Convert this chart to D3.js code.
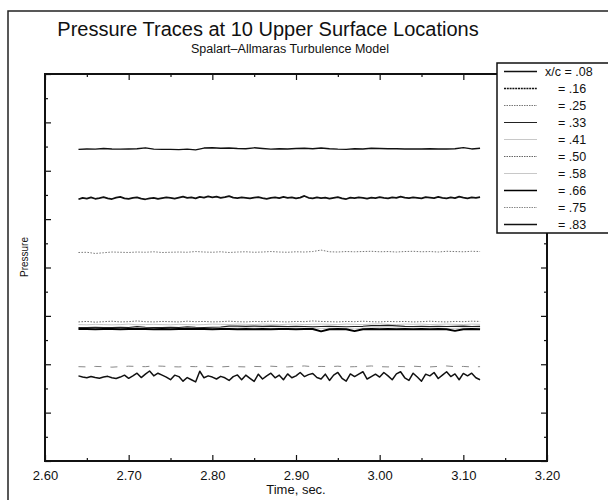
<!DOCTYPE html>
<html>
<head>
<meta charset="utf-8">
<script src="https://cdn.jsdelivr.net/npm/d3@7"></script>
<style>
  body { margin: 0; background: white; }
  svg { font-family: "Liberation Sans", Arial, sans-serif; }
</style>
</head>
<body>
<svg width="608" height="500"></svg>
<script>
// time samples (sec)
let tCoarse = [
  2.64, 2.65, 2.66, 2.67, 2.68, 2.69, 2.70, 2.71, 2.72, 2.73,
  2.74, 2.75, 2.76, 2.77, 2.78, 2.79, 2.80, 2.81, 2.82, 2.83,
  2.84, 2.85, 2.86, 2.87, 2.88, 2.89, 2.90, 2.91, 2.92, 2.93,
  2.94, 2.95, 2.96, 2.97, 2.98, 2.99, 3.00, 3.01, 3.02, 3.03,
  3.04, 3.05, 3.06, 3.07, 3.08, 3.09, 3.10, 3.11, 3.12]
let tFine = [
  2.640, 2.645, 2.650, 2.655, 2.660, 2.665, 2.670, 2.675, 2.680, 2.685,
  2.690, 2.695, 2.700, 2.705, 2.710, 2.715, 2.720, 2.725, 2.730, 2.735,
  2.740, 2.745, 2.750, 2.755, 2.760, 2.765, 2.770, 2.775, 2.780, 2.785,
  2.790, 2.795, 2.800, 2.805, 2.810, 2.815, 2.820, 2.825, 2.830, 2.835,
  2.840, 2.845, 2.850, 2.855, 2.860, 2.865, 2.870, 2.875, 2.880, 2.885,
  2.890, 2.895, 2.900, 2.905, 2.910, 2.915, 2.920, 2.925, 2.930, 2.935,
  2.940, 2.945, 2.950, 2.955, 2.960, 2.965, 2.970, 2.975, 2.980, 2.985,
  2.990, 2.995, 3.000, 3.005, 3.010, 3.015, 3.020, 3.025, 3.030, 3.035,
  3.040, 3.045, 3.050, 3.055, 3.060, 3.065, 3.070, 3.075, 3.080, 3.085,
  3.090, 3.095, 3.100, 3.105, 3.110, 3.115, 3.120]

// pressure traces (arbitrary units, unlabelled axis)
let p08 = [
  12.88, 12.90, 12.89, 12.92, 12.90, 12.89, 12.90, 12.91, 12.95, 12.89,
  12.88, 12.88, 12.87, 12.89, 12.86, 12.94, 12.95, 12.93, 12.94, 12.92,
  12.91, 12.95, 12.92, 12.89, 12.91, 12.90, 12.92, 12.93, 12.91, 12.94,
  12.91, 12.89, 12.88, 12.91, 12.90, 12.93, 12.92, 12.91, 12.91, 12.90,
  12.90, 12.90, 12.91, 12.90, 12.90, 12.91, 12.96, 12.90, 12.93]
let p16 = [
  10.82, 10.88, 10.85, 10.90, 10.84, 10.87, 10.91, 10.86, 10.83, 10.89,
  10.92, 10.86, 10.84, 10.88, 10.90, 10.85, 10.82, 10.86, 10.88, 10.84,
  10.87, 10.90, 10.88, 10.85, 10.89, 10.93, 10.88, 10.90, 10.86, 10.92,
  10.89, 10.94, 10.90, 10.93, 10.88, 10.91, 10.95, 10.89, 10.87, 10.90,
  10.88, 10.86, 10.89, 10.91, 10.87, 10.84, 10.88, 10.90, 10.87, 10.92,
  10.88, 10.90, 10.86, 10.89, 10.96, 10.88, 10.86, 10.90, 10.87, 10.89,
  10.85, 10.88, 10.91, 10.86, 10.83, 10.89, 10.87, 10.90, 10.88, 10.85,
  10.89, 10.87, 10.91, 10.88, 10.86, 10.90, 10.88, 10.93, 10.89, 10.87,
  10.90, 10.88, 10.86, 10.91, 10.89, 10.87, 10.92, 10.88, 10.86, 10.90,
  10.87, 10.93, 10.89, 10.86, 10.90, 10.88, 10.91]
let p25 = [
  8.62, 8.63, 8.58, 8.61, 8.64, 8.63, 8.62, 8.64, 8.63, 8.65,
  8.62, 8.63, 8.64, 8.63, 8.66, 8.64, 8.63, 8.65, 8.62, 8.64,
  8.65, 8.63, 8.64, 8.66, 8.64, 8.63, 8.65, 8.64, 8.66, 8.72,
  8.65, 8.64, 8.66, 8.65, 8.66, 8.67, 8.65, 8.66, 8.64, 8.66,
  8.67, 8.65, 8.66, 8.64, 8.67, 8.66, 8.65, 8.67, 8.66]
let p33 = [
  5.52, 5.52, 5.53, 5.52, 5.52, 5.53, 5.52, 5.56, 5.53, 5.52,
  5.52, 5.53, 5.52, 5.55, 5.53, 5.52, 5.53, 5.54, 5.58, 5.58,
  5.57, 5.58, 5.57, 5.58, 5.57, 5.56, 5.57, 5.56, 5.55, 5.56,
  5.57, 5.56, 5.55, 5.56, 5.57, 5.60, 5.60, 5.61, 5.59, 5.57,
  5.56, 5.57, 5.56, 5.57, 5.56, 5.57, 5.58, 5.56, 5.57]
let p41 = [
  5.64, 5.63, 5.65, 5.64, 5.63, 5.64, 5.66, 5.63, 5.64, 5.65,
  5.64, 5.63, 5.65, 5.64, 5.63, 5.64, 5.66, 5.65, 5.64, 5.66,
  5.65, 5.64, 5.66, 5.65, 5.64, 5.65, 5.66, 5.64, 5.65, 5.66,
  5.65, 5.64, 5.66, 5.65, 5.64, 5.66, 5.67, 5.65, 5.64, 5.66,
  5.65, 5.66, 5.64, 5.65, 5.66, 5.65, 5.64, 5.66, 5.65]
let p50 = [
  5.75, 5.77, 5.74, 5.76, 5.78, 5.75, 5.76, 5.79, 5.76, 5.75,
  5.77, 5.76, 5.75, 5.78, 5.76, 5.77, 5.75, 5.76, 5.78, 5.76,
  5.75, 5.77, 5.76, 5.78, 5.76, 5.75, 5.77, 5.76, 5.79, 5.77,
  5.76, 5.75, 5.77, 5.76, 5.78, 5.76, 5.75, 5.77, 5.76, 5.77,
  5.75, 5.76, 5.78, 5.76, 5.75, 5.77, 5.76, 5.78, 5.77]
let p58 = [
  5.49, 5.48, 5.50, 5.49, 5.48, 5.49, 5.51, 5.48, 5.49, 5.50,
  5.49, 5.48, 5.50, 5.49, 5.51, 5.49, 5.48, 5.50, 5.49, 5.50,
  5.51, 5.49, 5.50, 5.48, 5.49, 5.51, 5.50, 5.49, 5.50, 5.47,
  5.49, 5.50, 5.48, 5.46, 5.49, 5.50, 5.51, 5.49, 5.50, 5.49,
  5.50, 5.49, 5.51, 5.50, 5.48, 5.47, 5.50, 5.49, 5.50]
let p66 = [
  5.46, 5.46, 5.45, 5.46, 5.46, 5.45, 5.46, 5.47, 5.46, 5.45,
  5.46, 5.45, 5.46, 5.47, 5.46, 5.46, 5.45, 5.46, 5.46, 5.45,
  5.46, 5.45, 5.46, 5.45, 5.46, 5.46, 5.45, 5.46, 5.46, 5.36,
  5.45, 5.46, 5.45, 5.37, 5.45, 5.46, 5.45, 5.46, 5.45, 5.46,
  5.45, 5.46, 5.45, 5.46, 5.45, 5.38, 5.45, 5.46, 5.45]
let p75 = [
  3.90, 3.89, 3.91, 3.90, 3.88, 3.90, 3.92, 3.91, 3.90, 3.93,
  3.92, 3.90, 3.89, 3.91, 3.90, 3.92, 3.90, 3.89, 3.91, 3.90,
  3.89, 3.91, 3.90, 3.92, 3.90, 3.89, 3.91, 3.93, 3.90, 3.91,
  3.90, 3.92, 3.89, 3.90, 3.91, 3.93, 3.90, 3.89, 3.91, 3.90,
  3.92, 3.90, 3.89, 3.91, 3.93, 3.90, 3.91, 3.89, 3.90]
let p83 = [
  3.52, 3.47, 3.44, 3.49, 3.45, 3.42, 3.47, 3.50, 3.44, 3.41,
  3.47, 3.55, 3.42, 3.52, 3.63, 3.45, 3.59, 3.72, 3.52, 3.63,
  3.55, 3.47, 3.36, 3.55, 3.49, 3.30, 3.45, 3.36, 3.27, 3.71,
  3.44, 3.52, 3.47, 3.39, 3.50, 3.44, 3.33, 3.49, 3.56, 3.36,
  3.55, 3.42, 3.29, 3.59, 3.39, 3.52, 3.63, 3.44, 3.55, 3.36,
  3.60, 3.44, 3.52, 3.66, 3.49, 3.57, 3.62, 3.45, 3.39, 3.59,
  3.33, 3.55, 3.66, 3.42, 3.30, 3.60, 3.49, 3.59, 3.69, 3.39,
  3.49, 3.59, 3.47, 3.66, 3.52, 3.36, 3.60, 3.69, 3.44, 3.33,
  3.63, 3.47, 3.30, 3.59, 3.52, 3.66, 3.41, 3.55, 3.69, 3.49,
  3.60, 3.36, 3.62, 3.52, 3.63, 3.44, 3.36]

let legendLabels = [".08", ".16", ".25", ".33", ".41", ".50", ".58", ".66", ".75", ".83"]
let xTicks = [2.6, 2.7, 2.8, 2.9, 3.0, 3.1, 3.2]
let xMinor = [2.65, 2.75, 2.85, 2.95, 3.05, 3.15]
let yTicks = [0, 2, 4, 6, 8, 10, 12, 14, 16]
let yMinor = [1, 3, 5, 7, 9, 11, 13, 15]

// line look for each location, in legend order (ldash = legend sample dash)
let styles = [
  {w: 1.3, c: "#111", dash: null, ldash: null},
  {w: 1.7, c: "#111", dash: null, ldash: "2,0.8"},
  {w: 1.0, c: "#777", dash: "1.5,1.5", ldash: "1.5,1"},
  {w: 1.2, c: "#222", dash: null, ldash: null},
  {w: 1.0, c: "#c8c8c8", dash: null, ldash: null},
  {w: 1.0, c: "#666", dash: "1.5,1.5", ldash: "1.5,1"},
  {w: 1.0, c: "#c8c8c8", dash: null, ldash: null},
  {w: 2.0, c: "#000", dash: null, ldash: null},
  {w: 1.0, c: "#888", dash: "7,9", ldash: "1.5,1"},
  {w: 1.5, c: "#111", dash: null, ldash: null}
]

let series = [
  {t: tCoarse, v: p08}, {t: tFine, v: p16}, {t: tCoarse, v: p25},
  {t: tCoarse, v: p33}, {t: tCoarse, v: p41}, {t: tCoarse, v: p50},
  {t: tCoarse, v: p58}, {t: tCoarse, v: p66}, {t: tCoarse, v: p75},
  {t: tFine, v: p83}
]

let svg = d3.select("svg")

// outer page frame (cut off at right and bottom)
svg.append("path")
  .attr("d", "M8,500 L8,11 L608,11")
  .attr("fill", "none")
  .attr("stroke", "#222")
  .attr("stroke-width", 1.5)

let mLeft = 45, mRight = 547, mTop = 74, mBottom = 461
let w = mRight - mLeft
let h = mBottom - mTop

let x = d3.scaleLinear().domain([2.6, 3.2]).range([0, w])
let y = d3.scaleLinear().domain([0, 16]).range([h, 0])

svg.append("text")
  .attr("x", 268)
  .attr("y", 36)
  .attr("text-anchor", "middle")
  .attr("font-size", "20px")
  .attr("fill", "#111")
  .text("Pressure Traces at 10 Upper Surface Locations")

svg.append("text")
  .attr("x", 290)
  .attr("y", 53)
  .attr("text-anchor", "middle")
  .attr("font-size", "12.5px")
  .attr("fill", "#111")
  .text("Spalart–Allmaras Turbulence Model")

let g = svg.append("g")
  .attr("transform", "translate(" + mLeft + "," + mTop + ")")

let tickAxis = (axis, tr) => {
  let a = g.append("g").attr("transform", tr).call(axis)
  a.select(".domain").remove()
  a.selectAll("line").attr("stroke", "#111").attr("stroke-width", 1.2)
  return a
}

// ticks point into the plot on all four sides
let xb = tickAxis(d3.axisBottom(x).tickValues(xTicks).tickSize(-6).tickPadding(10)
  .tickFormat(d3.format(".2f")), "translate(0," + h + ")")
xb.selectAll("text")
  .attr("font-size", "13px")
  .attr("fill", "#111")
  .attr("font-family", "Liberation Sans, Arial, sans-serif")
tickAxis(d3.axisBottom(x).tickValues(xMinor).tickSize(-3).tickFormat(""), "translate(0," + h + ")")
tickAxis(d3.axisTop(x).tickValues(xTicks).tickSize(-6).tickFormat(""), "translate(0,0)")
tickAxis(d3.axisTop(x).tickValues(xMinor).tickSize(-3).tickFormat(""), "translate(0,0)")
tickAxis(d3.axisLeft(y).tickValues(yTicks).tickSize(-6).tickFormat(""), "translate(0,0)")
tickAxis(d3.axisLeft(y).tickValues(yMinor).tickSize(-3).tickFormat(""), "translate(0,0)")
tickAxis(d3.axisRight(y).tickValues(yTicks).tickSize(-6).tickFormat(""), "translate(" + w + ",0)")
tickAxis(d3.axisRight(y).tickValues(yMinor).tickSize(-3).tickFormat(""), "translate(" + w + ",0)")

let line = d3.line()
  .x((d) => { return x(d[0]) })
  .y((d) => { return y(d[1]) })

// draw light ones first so the dark traces sit on top
let order = [4, 6, 2, 5, 8, 3, 0, 1, 7, 9]
order.forEach((i) => {
  let s = series[i]
  let pts = s.t.map((t, k) => { return [t, s.v[k]] })
  g.append("path")
    .datum(pts)
    .attr("d", line)
    .attr("fill", "none")
    .attr("stroke", styles[i].c)
    .attr("stroke-width", styles[i].w)
    .attr("stroke-dasharray", styles[i].dash)
    .attr("stroke-linejoin", "round")
})

g.append("rect")
  .attr("width", w)
  .attr("height", h)
  .attr("fill", "none")
  .attr("stroke", "#111")
  .attr("stroke-width", 2)

g.append("text")
  .attr("x", w / 2)
  .attr("y", h + 33)
  .attr("text-anchor", "middle")
  .attr("font-size", "13px")
  .attr("fill", "#111")
  .text("Time, sec.")

svg.append("text")
  .attr("transform", "translate(28,257) rotate(-90)")
  .attr("text-anchor", "middle")
  .attr("font-size", "10px")
  .attr("fill", "#111")
  .text("Pressure")

// legend box, runs off the right edge of the page
let lg = svg.append("g").attr("transform", "translate(497,63)")
let rowH = 17
lg.append("rect")
  .attr("width", 130)
  .attr("height", rowH * legendLabels.length)
  .attr("fill", "white")
  .attr("stroke", "#111")
  .attr("stroke-width", 1.5)

let rows = lg.selectAll(".row")
  .data(legendLabels)
  .enter().append("g")
  .attr("class", "row")
  .attr("transform", (d, i) => { return "translate(0," + (rowH * i + 8.5) + ")" })

rows.append("line")
  .attr("x1", 7)
  .attr("x2", 40)
  .attr("stroke", (d, i) => { return styles[i].c })
  .attr("stroke-width", (d, i) => { return Math.min(styles[i].w, 1.3) })
  .attr("stroke-dasharray", (d, i) => { return styles[i].ldash })

rows.append("text")
  .attr("x", (d, i) => { return i == 0 ? 48 : 61 })
  .attr("y", 4.5)
  .attr("font-size", "12.5px")
  .attr("fill", "#111")
  .text((d, i) => { return (i == 0 ? "x/c = " : "= ") + d })
</script>
</body>
</html>
